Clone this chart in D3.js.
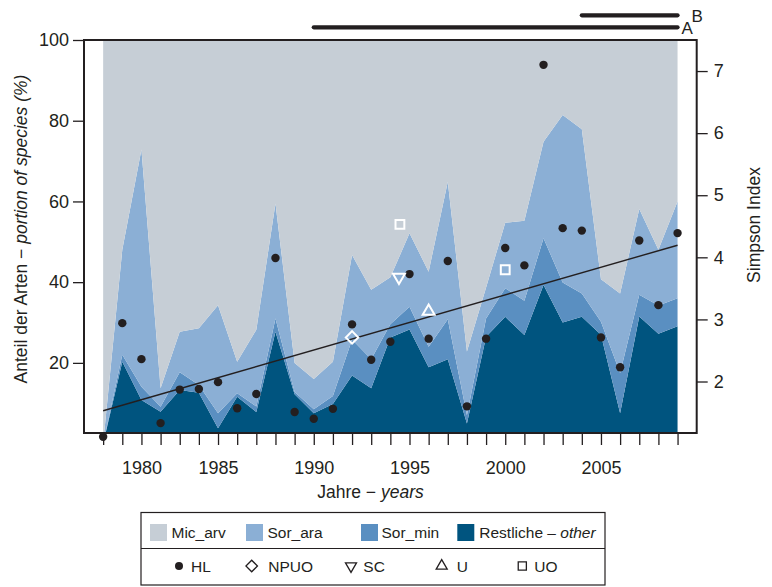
<!DOCTYPE html>
<html>
<head>
<meta charset="utf-8">
<script src="https://cdn.jsdelivr.net/npm/d3@7"></script>
<style>
  html, body { margin: 0; padding: 0; background: #fff; }
  svg { display: block; font-family: "Liberation Sans", Arial, Helvetica, sans-serif; }
</style>
</head>
<body>
<svg id="chart" width="772" height="587"></svg>
<script>
// Sampling years (one year between 1980 and 1985 was not sampled)
const years = [1978, 1979, 1980, 1981, 1982, 1983, 1985, 1986, 1987, 1988, 1989,
  1990, 1991, 1992, 1993, 1994, 1995, 1996, 1997, 1998, 1999, 2000, 2001, 2002,
  2003, 2004, 2005, 2006, 2007, 2008, 2009];

// Share of species (%) per sample, stacked bottom to top
const restliche = [0, 20.3, 10.8, 7.9, 13.3, 12.6, 3.8, 11.6, 7.8, 27.7, 12.2,
  7.5, 9.8, 16.9, 13.7, 26.3, 28.3, 18.9, 20.9, 5.0, 26.5, 31.4, 26.9, 39.3,
  30.0, 31.4, 27.0, 7.5, 31.5, 27.2, 29.1];
const sorMin = [0, 1.7, 3.3, 1.2, 4.4, 1.9, 3.7, 0.9, 1.4, 3.3, 0.6, 1.0, 2.0,
  8.9, 7.2, 3.3, 5.6, 5.1, 9.9, 2.0, 4.5, 7.1, 8.5, 11.6, 9.9, 5.8, 3.2, 10.0,
  5.4, 7.0, 6.9];
const sorAra = [0, 26.0, 58.8, 4.6, 10.0, 14.1, 26.8, 7.8, 19.0, 28.5, 7.2, 7.5,
  8.5, 20.9, 17.2, 11.6, 18.2, 18.6, 34.1, 15.8, 7.7, 16.2, 19.8, 23.9, 41.5,
  40.7, 10.5, 19.7, 21.2, 13.8, 24.0];
const micArv = [100, 52.0, 27.1, 86.3, 72.3, 71.4, 65.7, 79.7, 71.8, 40.5, 80.0,
  84.0, 79.7, 53.3, 61.9, 58.8, 47.9, 57.4, 35.1, 77.2, 61.3, 45.3, 44.8, 25.2,
  18.6, 22.1, 59.3, 62.8, 41.9, 52.0, 40.0];

// Simpson index, HL site
const hl = [1.11, 2.94, 2.36, 1.33, 1.87, 1.88, 1.99, 1.57, 1.80, 3.99, 1.51,
  1.40, 1.56, 2.92, 2.35, 2.64, 3.73, 2.69, 3.94, 1.60, 2.69, 4.15, 3.87, 7.10,
  4.47, 4.43, 2.71, 2.23, 4.27, 3.23, 4.39];

// Simpson index at the other sites (pos = position on the sample axis)
const npuo = [{ pos: 13, v: 2.71 }];
const sc = [{ pos: 15.45, v: 3.68 }];
const uSite = [{ pos: 17, v: 3.13 }];
const uo = [{ pos: 15.5, v: 4.53 }, { pos: 21, v: 3.80 }];

// Periods marked above the plot
const periods = [
  { label: "A", from: 1990, to: 2009 },
  { label: "B", from: 2004, to: 2009 }
];

const leftTicks = [20, 40, 60, 80, 100];
const rightTicks = [2, 3, 4, 5, 6, 7];

const colors = {
  Restliche: "#00547f",
  Sor_min: "#5a8fc1",
  Sor_ara: "#8bafd5",
  Mic_arv: "#c6ced6"
};
const ink = "#231f20";

const svg = d3.select("#chart");

const plot = { left: 84, right: 696.7, top: 40, bottom: 433 };
const x = d3.scaleLinear().domain([-1, 31]).range([plot.left, plot.right]);
const yL = d3.scaleLinear().domain([0, 100]).range([443.6, plot.top]);
const yR = d3.scaleLinear().domain([1, 7.5]).range([443.6, plot.top]);

// Stacked shares
const keys = ["Restliche", "Sor_min", "Sor_ara", "Mic_arv"];
const rows = years.map((yr, i) => ({
  i, year: yr,
  Restliche: restliche[i], Sor_min: sorMin[i], Sor_ara: sorAra[i], Mic_arv: micArv[i]
}));
const series = d3.stack().keys(keys)(rows);

svg.append("clipPath").attr("id", "plotClip")
  .append("rect")
  .attr("x", plot.left).attr("y", plot.top)
  .attr("width", plot.right - plot.left).attr("height", plot.bottom - plot.top);

const area = d3.area()
  .x(d => x(d.data.i))
  .y0(d => yL(d[0]))
  .y1(d => yL(d[1]));

svg.append("g").attr("clip-path", "url(#plotClip)")
  .selectAll("path").data(series).join("path")
  .attr("fill", d => colors[d.key])
  .attr("d", area);

// Regression line of HL over the samples
const n = hl.length;
const mx = d3.mean(hl, (v, i) => i);
const my = d3.mean(hl);
const slope = d3.sum(hl, (v, i) => (i - mx) * (v - my)) / d3.sum(hl, (v, i) => (i - mx) * (i - mx));
const icpt = my - slope * mx;
svg.append("line")
  .attr("x1", x(0)).attr("y1", yR(icpt))
  .attr("x2", x(n - 1)).attr("y2", yR(icpt + slope * (n - 1)))
  .attr("stroke", ink).attr("stroke-width", 1.4);

// Axes
const xAxis = d3.axisBottom(x)
  .tickValues(d3.range(years.length))
  .tickFormat(i => years[i] % 5 === 0 ? String(years[i]) : "")
  .tickSize(12).tickSizeOuter(0).tickPadding(16);
const gx = svg.append("g").attr("transform", `translate(0,${plot.bottom})`).call(xAxis);

const gl = svg.append("g").attr("transform", `translate(${plot.left},0)`)
  .call(d3.axisLeft(yL).tickValues(leftTicks).tickFormat(d3.format("d"))
    .tickSize(11).tickSizeOuter(0).tickPadding(4));

const gr = svg.append("g").attr("transform", `translate(${plot.right},0)`)
  .call(d3.axisRight(yR).tickValues(rightTicks).tickFormat(d3.format("d"))
    .tickSize(11).tickSizeOuter(0).tickPadding(6));

[gx, gl, gr].forEach(g => {
  g.select(".domain").remove();
  g.selectAll(".tick line").attr("stroke", ink).attr("stroke-width", 1.3);
  g.selectAll(".tick text").attr("fill", ink).style("font-size", "18px");
});

// Plot frame
svg.append("rect")
  .attr("x", plot.left).attr("y", plot.top)
  .attr("width", plot.right - plot.left).attr("height", plot.bottom - plot.top)
  .attr("fill", "none").attr("stroke", ink).attr("stroke-width", 2);

// HL points
svg.append("g").selectAll("circle").data(hl).join("circle")
  .attr("cx", (v, i) => x(i)).attr("cy", v => yR(v))
  .attr("r", 4.2).attr("fill", ink);

// Other sites: open white symbols
const sym = {
  diamond: { type: d3.symbolSquare, size: 78, rot: 45 },
  down: { type: d3.symbolTriangle, size: 62, rot: 180 },
  up: { type: d3.symbolTriangle, size: 62, rot: 0 },
  square: { type: d3.symbolSquare, size: 78, rot: 0 }
};
function drawSymbols(data, s) {
  svg.append("g").selectAll("path").data(data).join("path")
    .attr("d", d3.symbol().type(s.type).size(s.size)())
    .attr("transform", d => `translate(${x(d.pos)},${yR(d.v)}) rotate(${s.rot})`)
    .attr("fill", "none").attr("stroke", "#fff").attr("stroke-width", 2);
}
drawSymbols(npuo, sym.diamond);
drawSymbols(sc, sym.down);
drawSymbols(uSite, sym.up);
drawSymbols(uo, sym.square);

// Period bars
const barY = { A: 27.3, B: 15.3 };
const pg = svg.append("g");
periods.forEach(p => {
  const x1 = x(years.indexOf(p.from)), x2 = x(years.indexOf(p.to));
  pg.append("line")
    .attr("x1", x1).attr("x2", x2).attr("y1", barY[p.label]).attr("y2", barY[p.label])
    .attr("stroke", ink).attr("stroke-width", 4.2).attr("stroke-linecap", "round");
});
pg.append("text").attr("x", 681.5).attr("y", 33.5).text("A")
  .attr("fill", ink).style("font-size", "17px");
pg.append("text").attr("x", 691.5).attr("y", 21.5).text("B")
  .attr("fill", ink).style("font-size", "17px");

// Axis titles
const tl = svg.append("text")
  .attr("transform", "translate(26.5,229) rotate(-90)")
  .attr("text-anchor", "middle").attr("fill", ink).style("font-size", "17.5px");
tl.append("tspan").text("Anteil der Arten \u2212 ");
tl.append("tspan").attr("font-style", "italic").text("portion of species (%)");

const tb = svg.append("text")
  .attr("x", 370.5).attr("y", 498)
  .attr("text-anchor", "middle").attr("fill", ink).style("font-size", "17.5px");
tb.append("tspan").text("Jahre \u2212 ");
tb.append("tspan").attr("font-style", "italic").text("years");

svg.append("text")
  .attr("transform", "translate(760,225) rotate(-90)")
  .attr("text-anchor", "middle").attr("fill", ink).style("font-size", "17.5px")
  .text("Simpson Index");

// Legend
const lg = svg.append("g");
lg.append("rect").attr("x", 141).attr("y", 512.5).attr("width", 464).attr("height", 72.5)
  .attr("fill", "none").attr("stroke", ink).attr("stroke-width", 1.2);
lg.append("line").attr("x1", 141).attr("x2", 605).attr("y1", 548.5).attr("y2", 548.5)
  .attr("stroke", ink).attr("stroke-width", 1.2);

const areaItems = [
  { key: "Mic_arv", sx: 150, tx: 171.5 },
  { key: "Sor_ara", sx: 246, tx: 267.5 },
  { key: "Sor_min", sx: 361, tx: 381.5 },
  { key: "Restliche", sx: 457.3, tx: 479.3 }
];
areaItems.forEach(it => {
  lg.append("rect").attr("x", it.sx).attr("y", 524).attr("width", 17).attr("height", 17)
    .attr("fill", colors[it.key]);
  const t = lg.append("text").attr("x", it.tx).attr("y", 538.3)
    .attr("fill", ink).style("font-size", "15.5px");
  if (it.key === "Restliche") {
    t.append("tspan").text("Restliche \u2013 ");
    t.append("tspan").attr("font-style", "italic").text("other");
  } else {
    t.text(it.key);
  }
});

const ly = 566;
lg.append("circle").attr("cx", 179).attr("cy", ly).attr("r", 4).attr("fill", ink);
const pointItems = [
  { s: sym.diamond, sx: 251.7, label: "NPUO", tx: 268.3 },
  { s: sym.down, sx: 351, label: "SC", tx: 363.3 },
  { s: sym.up, sx: 441.7, label: "U", tx: 456.7 },
  { s: sym.square, sx: 522.3, label: "UO", tx: 534.3 }
];
pointItems.forEach(it => {
  lg.append("path")
    .attr("d", d3.symbol().type(it.s.type).size(it.s.size * 0.85)())
    .attr("transform", `translate(${it.sx},${ly}) rotate(${it.s.rot})`)
    .attr("fill", "none").attr("stroke", ink).attr("stroke-width", 1.3);
});
[{ label: "HL", tx: 191 }].concat(pointItems).forEach(it => {
  lg.append("text").attr("x", it.tx).attr("y", 571.7).text(it.label)
    .attr("fill", ink).style("font-size", "15.5px");
});
</script>
</body>
</html>
